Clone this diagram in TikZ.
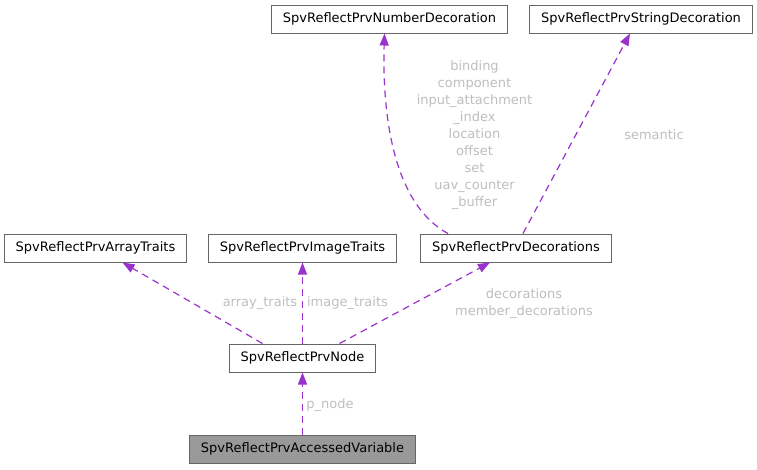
\documentclass[tikz,border=0pt]{standalone}
\usepackage{fontspec}
\setmainfont{DejaVu Sans}
\usetikzlibrary{arrows.meta,positioning}
\definecolor{edgepurple}{RGB}{154,50,205}
\definecolor{boxgray}{RGB}{102,102,102}
\definecolor{labelgray}{RGB}{190,190,190}
\definecolor{mainfill}{RGB}{153,153,153}
\tikzset{
  cls/.style={draw=boxgray, line width=1pt, fill=white, inner xsep=11.5pt,
    inner ysep=0pt, minimum height=28pt, font=\fontsize{13}{17}\selectfont},
  member/.style={draw=edgepurple, line width=1.2pt, dash pattern=on 7pt off 5pt,
    -{Triangle[length=12pt,width=9pt]}},
  edgelabel/.style={text=labelgray, font=\fontsize{13}{17}\selectfont,
    align=center, inner sep=0pt},
}

\begin{document}
\begin{tikzpicture}[x=1pt, y=-1pt]
\useasboundingbox (0,0) rectangle (757,469);
% Decoration classes (top row)
\node[cls] (numdeco) at (389.5,19) {SpvReflectPrvNumberDecoration};
\node[cls] (strdeco) at (641,19) {SpvReflectPrvStringDecoration};
% Traits and decorations (middle row)
\node[cls] (arrtraits) at (95.5,248) {SpvReflectPrvArrayTraits};
\node[cls] (imgtraits) at (302.5,248) {SpvReflectPrvImageTraits};
\node[cls] (decos) at (516,248) {SpvReflectPrvDecorations};
% Node and the documented class
\node[cls] (prvnode) at (302.5,358) {SpvReflectPrvNode};
\node[cls, fill=mainfill] (accvar) at (302.5,449) {SpvReflectPrvAccessedVariable};
% Member edges
\draw[member] (accvar.north) -- (prvnode.south);
\draw[member] ([xshift=-40pt]prvnode.north) -- ([xshift=27pt]arrtraits.south);
\draw[member] (prvnode.north) -- (imgtraits.south);
\draw[member] ([xshift=37pt]prvnode.north) -- ([xshift=-26pt]decos.south);
\draw[member] ([xshift=-68pt]decos.north)
  .. controls (395,205) and (382,120) .. ([xshift=-5pt]numdeco.south);
\draw[member] ([xshift=7pt]decos.north) -- ([xshift=-11pt]strdeco.south);
% Edge labels
\node[edgelabel] (lbpnode) at (330,405) {p\_node};
\node[edgelabel] (lbarr) at (260,303.5) {array\_traits};
\node[edgelabel] (lbimg) at (347.5,303.5) {image\_traits};
\node[edgelabel] (lbdecos) at (524,304) {decorations\\member\_decorations};
\node[edgelabel] (lbnum) at (474.5,135) {binding\\component\\input\_attachment\\\_index\\location\\offset\\set\\uav\_counter\hspace*{35pt}\\\_buffer};
\node[edgelabel] (lbsem) at (654,134.5) {semantic};
\end{tikzpicture}
\end{document}
